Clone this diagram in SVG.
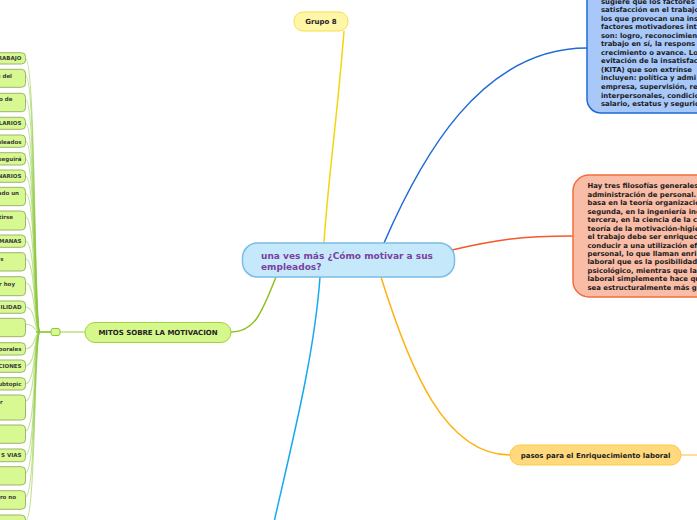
<svg xmlns="http://www.w3.org/2000/svg" width="697" height="520" viewBox="0 0 697 520">
<style>
.bg{fill:#ffffff}
.lbox{fill:#d8f892;stroke:#9db56c;stroke-width:1}
.ltxt{font-family:"DejaVu Sans",sans-serif;font-weight:bold;font-size:5.5px;fill:#3a3a3a;text-anchor:end}
.sub{fill:none;stroke:#8cc83a;stroke-width:1.1;stroke-opacity:0.55}
.body{font-family:"DejaVu Sans",sans-serif;font-weight:bold;font-size:6.9px;fill:#1a1a1a}
.lbl{font-family:"DejaVu Sans",sans-serif;font-weight:bold;font-size:7px;fill:#222;text-anchor:middle}
.main{font-family:"DejaVu Sans",sans-serif;font-weight:bold;font-size:9px;fill:#7b3f9e}
.c{fill:none;stroke-width:1.5}
</style>
<rect class="bg" x="0" y="0" width="697" height="520"/>

<g id="connectors">
<path class="c" d="M344,31 C338,110 327,190 324,243" stroke="#f2d60f" stroke-width="1.2"/>
<path class="c" d="M384,243 C420,160 480,48 587,48" stroke="#1f69d6"/>
<path class="c" d="M452,250 C495,240 520,236 573,236" stroke="#f4592b"/>
<path class="c" d="M276,277 C262,312 255,332 231,332" stroke="#8cc21c"/>
<path class="c" d="M320,277 C314,360 290,450 270,540" stroke="#17a9ee"/>
<path class="c" d="M381,277 C410,370 445,455 510,455" stroke="#ffb20f"/>
<path class="c" d="M681,455 L697,455" stroke="#ffd27a" stroke-width="1"/>
<path class="c" d="M60,332 L85,332" stroke="#bfe07a" stroke-width="1"/>
<path class="c" d="M36,332 L51,332" stroke="#7cc21a" stroke-width="2.5"/>
<g id="sub-connectors">
<path class="sub" d="M40,332 C34,332 36,58.7 25.5,58.7"/>
<path class="sub" d="M40,332 C34,332 36,75.3 25.5,75.3"/>
<path class="sub" d="M40,332 C34,332 36,99.3 25.5,99.3"/>
<path class="sub" d="M40,332 C34,332 36,123.3 25.5,123.3"/>
<path class="sub" d="M40,332 C34,332 36,141 25.5,141"/>
<path class="sub" d="M40,332 C34,332 36,158.7 25.5,158.7"/>
<path class="sub" d="M40,332 C34,332 36,176 25.5,176"/>
<path class="sub" d="M40,332 C34,332 36,193.3 25.5,193.3"/>
<path class="sub" d="M40,332 C34,332 36,217 25.5,217"/>
<path class="sub" d="M40,332 C34,332 36,241 25.5,241"/>
<path class="sub" d="M40,332 C34,332 36,258.7 25.5,258.7"/>
<path class="sub" d="M40,332 C34,332 36,282.7 25.5,282.7"/>
<path class="sub" d="M40,332 C34,332 36,307 25.5,307"/>
<path class="sub" d="M40,332 C34,332 36,324.3 25.5,324.3"/>
<path class="sub" d="M40,332 C34,332 36,348.7 25.5,348.7"/>
<path class="sub" d="M40,332 C34,332 36,366 25.5,366"/>
<path class="sub" d="M40,332 C34,332 36,383.7 25.5,383.7"/>
<path class="sub" d="M40,332 C34,332 36,401 25.5,401"/>
<path class="sub" d="M40,332 C34,332 36,431 25.5,431"/>
<path class="sub" d="M40,332 C34,332 36,455 25.5,455"/>
<path class="sub" d="M40,332 C34,332 36,472.7 25.5,472.7"/>
<path class="sub" d="M40,332 C34,332 36,496.7 25.5,496.7"/>
<path class="sub" d="M40,332 C34,332 36,521 25.5,521"/>
</g>
</g>

<g id="node-center">
<rect x="242.5" y="243" width="212" height="34" rx="15" fill="#c5e9fb" stroke="#79bde8" stroke-width="1.5"/>
<text class="main" x="261" y="258.8">una ves más ¿Cómo motivar a sus</text>
<text class="main" x="261" y="269.5">empleados?</text>
</g>

<g id="node-grupo8">
<rect x="294" y="12" width="54" height="19" rx="9" fill="#fff6a8" stroke="#f5e04a" stroke-width="1"/>
<text class="lbl" x="321" y="24">Grupo 8</text>
</g>

<g id="node-herzberg">
<rect x="587" y="-30" width="140" height="143" rx="14" fill="#a8c8fa" stroke="#1f69d6" stroke-width="1.5"/>
<text class="body" x="601" y="3.5">sugiere que los factores</text>
<text class="body" x="601" y="12">satisfacción en el trabajo</text>
<text class="body" x="601" y="20.6">los que provocan una ins</text>
<text class="body" x="601" y="29.1">factores motivadores int</text>
<text class="body" x="601" y="37.7">son: logro, reconocimien</text>
<text class="body" x="601" y="46.2">trabajo en sí, la respons</text>
<text class="body" x="601" y="54.8">crecimiento o avance. Lo</text>
<text class="body" x="601" y="63.3">evitación de la insatisfac</text>
<text class="body" x="601" y="71.9">(KITA) que son extrínse</text>
<text class="body" x="601" y="80.4">incluyen: política y admi</text>
<text class="body" x="601" y="89">empresa, supervisión, re</text>
<text class="body" x="601" y="97.5">interpersonales, condicio</text>
<text class="body" x="601" y="106.1">salario, estatus y segurid</text>
</g>

<g id="node-filosofias">
<rect x="573" y="175" width="150" height="122" rx="16" fill="#f9bca7" stroke="#f36d3b" stroke-width="1.5"/>
<text class="body" x="587.5" y="188.2">Hay tres filosofías generales</text>
<text class="body" x="587.5" y="196.7">administración de personal.</text>
<text class="body" x="587.5" y="205.1">basa en la teoría organizacio</text>
<text class="body" x="587.5" y="213.6">segunda, en la ingeniería ind</text>
<text class="body" x="587.5" y="222.1">tercera, en la ciencia de la c</text>
<text class="body" x="587.5" y="230.6">teoría de la motivación-higie</text>
<text class="body" x="587.5" y="239">el trabajo debe ser enriquec</text>
<text class="body" x="587.5" y="247.5">conducir a una utilización ef</text>
<text class="body" x="587.5" y="256">personal, lo que llaman enri</text>
<text class="body" x="587.5" y="264.4">laboral que es la posibilidad</text>
<text class="body" x="587.5" y="272.9">psicológico, mientras que la</text>
<text class="body" x="587.5" y="281.4">laboral simplemente hace qu</text>
<text class="body" x="587.5" y="289.9">sea estructuralmente más g</text>
</g>

<g id="node-pasos">
<rect x="510" y="445" width="171" height="20" rx="10" fill="#ffd97c" stroke="#ffc93e" stroke-width="1"/>
<text class="lbl" x="595.5" y="457.5">pasos para el Enriquecimiento laboral</text>
</g>

<g id="node-mitos">
<rect x="85" y="322.5" width="146" height="20" rx="10" fill="#d5f78c" stroke="#a0d23c" stroke-width="1"/>
<text class="lbl" x="158" y="335">MITOS SOBRE LA MOTIVACION</text>
</g>

<g id="node-hub">
<rect x="51" y="328.5" width="9" height="7" rx="2" fill="#d8f892" stroke="#8cc63f" stroke-width="1"/>
</g>

<g id="node-m1"><rect class="lbox" x="-60" y="52.7" width="85.5" height="11.3" rx="4"/><text class="ltxt" x="21.5" y="60.3">RABAJO</text></g>
<g id="node-m2"><rect class="lbox" x="-60" y="69.3" width="85.5" height="18" rx="4"/><text class="ltxt" x="12" y="77.7">s del</text></g>
<g id="node-m3"><rect class="lbox" x="-60" y="93.3" width="85.5" height="18.4" rx="4"/><text class="ltxt" x="12.4" y="101.3">o de</text></g>
<g id="node-m4"><rect class="lbox" x="-60" y="117.3" width="85.5" height="12" rx="4"/><text class="ltxt" x="21.5" y="125.3">LARIOS</text></g>
<g id="node-m5"><rect class="lbox" x="-60" y="135" width="85.5" height="12.3" rx="4"/><text class="ltxt" x="21.5" y="143.5">pleados</text></g>
<g id="node-m6"><rect class="lbox" x="-60" y="152.7" width="85.5" height="12.3" rx="4"/><text class="ltxt" x="21.5" y="160.7">seguirá</text></g>
<g id="node-m7"><rect class="lbox" x="-60" y="170" width="85.5" height="12.3" rx="4"/><text class="ltxt" x="21.5" y="178.3">NARIOS</text></g>
<g id="node-m8"><rect class="lbox" x="-60" y="187.3" width="85.5" height="18.4" rx="4"/><text class="ltxt" x="19" y="195.3">ado un</text></g>
<g id="node-m9"><rect class="lbox" x="-60" y="211" width="85.5" height="19" rx="4"/><text class="ltxt" x="13" y="219.3">rtirse</text></g>
<g id="node-m10"><rect class="lbox" x="-60" y="235" width="85.5" height="12.3" rx="4"/><text class="ltxt" x="21.5" y="243.3">IMANAS</text></g>
<g id="node-m11"><rect class="lbox" x="-60" y="252.7" width="85.5" height="18.3" rx="4"/><text class="ltxt" x="3.5" y="261.3">s</text></g>
<g id="node-m12"><rect class="lbox" x="-60" y="276.7" width="85.5" height="19" rx="4"/><text class="ltxt" x="15" y="285.7">r hoy</text></g>
<g id="node-m13"><rect class="lbox" x="-60" y="301" width="85.5" height="12.3" rx="4"/><text class="ltxt" x="21.5" y="309.3">ILIDAD</text></g>
<g id="node-m14"><rect class="lbox" x="-60" y="318.3" width="85.5" height="18.4" rx="4"/></g>
<g id="node-m15"><rect class="lbox" x="-60" y="342.7" width="85.5" height="12.3" rx="4"/><text class="ltxt" x="21.5" y="350.7">porales</text></g>
<g id="node-m16"><rect class="lbox" x="-60" y="360" width="85.5" height="12.3" rx="4"/><text class="ltxt" x="21.5" y="368">CIONES</text></g>
<g id="node-m17"><rect class="lbox" x="-60" y="377.7" width="85.5" height="12.3" rx="4"/><text class="ltxt" x="21.5" y="386">Subtopic</text></g>
<g id="node-m18"><rect class="lbox" x="-60" y="395" width="85.5" height="25" rx="4"/><text class="ltxt" x="2.7" y="403.7">r</text></g>
<g id="node-m19"><rect class="lbox" x="-60" y="425" width="85.5" height="18.3" rx="4"/></g>
<g id="node-m20"><rect class="lbox" x="-60" y="449" width="85.5" height="12.7" rx="4"/><text class="ltxt" x="21.5" y="457.3">S VIAS</text></g>
<g id="node-m21"><rect class="lbox" x="-60" y="466.7" width="85.5" height="18.3" rx="4"/></g>
<g id="node-m22"><rect class="lbox" x="-60" y="490.7" width="85.5" height="18.6" rx="4"/><text class="ltxt" x="16" y="499.3">aro no</text></g>
<g id="node-m23"><rect class="lbox" x="-60" y="515" width="85.5" height="20" rx="4"/></g>
</svg>
